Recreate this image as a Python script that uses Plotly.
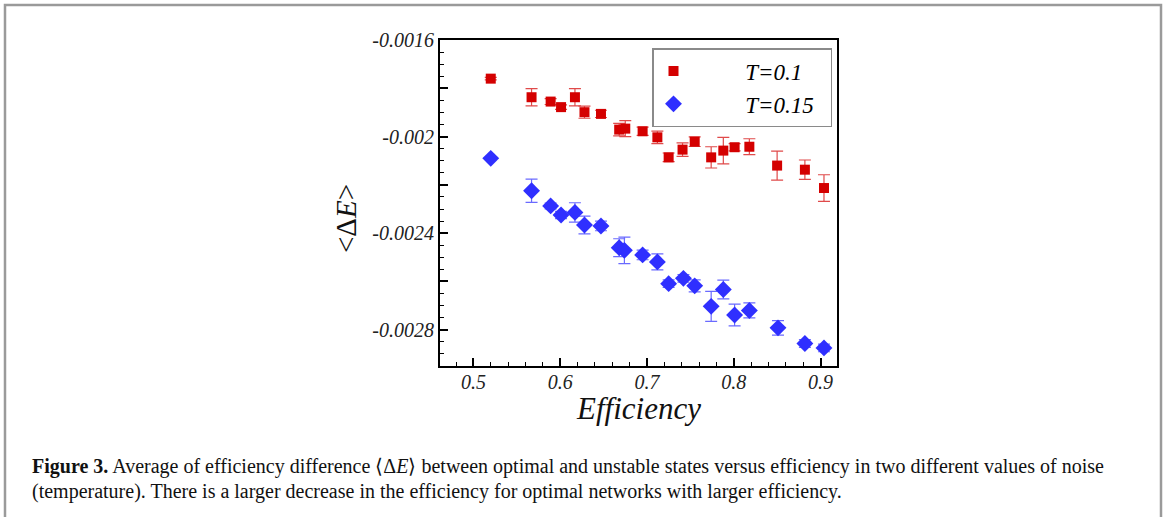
import plotly.graph_objects as go

# ---- data ----
eff_red = [0.520, 0.567, 0.589, 0.601, 0.617, 0.628, 0.647, 0.668, 0.675, 0.695,
           0.712, 0.725, 0.741, 0.755, 0.774, 0.788, 0.801, 0.818, 0.850, 0.882, 0.904]
de_red = [-0.001760, -0.001837, -0.001855, -0.001878, -0.001837, -0.001899, -0.001906,
          -0.001971, -0.001967, -0.001978, -0.002003, -0.002086, -0.002054, -0.002021,
          -0.002086, -0.002058, -0.002044, -0.002042, -0.002120, -0.002137, -0.002213]
err_red = [0.000005, 0.000036, 0.000012, 0.000009, 0.000036, 0.000025, 0.000015,
           0.000026, 0.000033, 0.000017, 0.000026, 0.000018, 0.000028, 0.000020,
           0.000044, 0.000055, 0.000015, 0.000033, 0.000060, 0.000040, 0.000055]

eff_blue = [0.520, 0.567, 0.589, 0.601, 0.617, 0.628, 0.647, 0.668, 0.674, 0.695,
            0.712, 0.725, 0.742, 0.755, 0.774, 0.788, 0.801, 0.818, 0.851, 0.882, 0.904]
de_blue = [-0.002090, -0.002224, -0.002287, -0.002325, -0.002314, -0.002366, -0.002370,
           -0.002460, -0.002471, -0.002490, -0.002519, -0.002609, -0.002587, -0.002618,
           -0.002703, -0.002633, -0.002739, -0.002720, -0.002792, -0.002857, -0.002875]
err_blue = [0.000005, 0.000048, 0.000012, 0.000015, 0.000040, 0.000037, 0.000020,
            0.000037, 0.000055, 0.000020, 0.000033, 0.000016, 0.000016, 0.000025,
            0.000062, 0.000039, 0.000045, 0.000031, 0.000030, 0.000016, 0.000016]

name_red = "T=0.1"
name_blue = "T=0.15"

x_ticks = [0.5, 0.6, 0.7, 0.8, 0.9]
y_ticks = [-0.0016, -0.0018, -0.002, -0.0022, -0.0024, -0.0026, -0.0028]
y_labels = ["-0.0016", "", "-0.002", "", "-0.0024", "", "-0.0028"]

caption_1 = ("<b>Figure 3.</b> Average of efficiency difference \u27e8\u0394<i>E</i>\u27e9 between optimal "
             "and unstable states versus efficiency in two different values of noise")
caption_2 = ("(temperature). There is a larger decrease in the efficiency for optimal "
             "networks with larger efficiency.")

SERIF = "Liberation Serif"
pad = "\u00a0" * 9
tail = "\u00a0" * 2

fig = go.Figure()
fig.add_trace(go.Scatter(
    x=eff_red, y=de_red, mode="markers", name=pad + "<i>" + name_red + "</i>",
    marker=dict(symbol="square", size=10, color="#d40000"),
    error_y=dict(type="data", array=err_red, color="#e04a4a", thickness=1.2, width=6),
))
fig.add_trace(go.Scatter(
    x=eff_blue, y=de_blue, mode="markers", name=pad + "<i>" + name_blue + "</i>" + tail,
    marker=dict(symbol="diamond", size=13, color="#2f2fff"),
    error_y=dict(type="data", array=err_blue, color="#6a6aff", thickness=1.2, width=6),
))

L, R, T, B = 440, 1168 - 837, 40, 517 - 366
W, H = 1168 - L - R, 517 - T - B


def px_x(px):
    return (px - L) / W


def px_y(py):
    return (517 - B - py) / H


fig.update_layout(
    width=1168, height=517,
    margin=dict(l=L, r=R, t=T, b=B),
    paper_bgcolor="white", plot_bgcolor="white",
    font=dict(family=SERIF, color="black"),
    showlegend=True,
    legend=dict(
        x=px_x(652), y=px_y(48), xanchor="left", yanchor="top",
        bordercolor="#8a8a8a", borderwidth=1.5, bgcolor="white",
        font=dict(family=SERIF, size=23, color="black"),
        tracegroupgap=0,
    ),
    xaxis=dict(
        range=[0.4615, 0.919], showgrid=False, zeroline=False,
        showline=True, linecolor="black", linewidth=2, mirror=True,
        ticks="inside", ticklen=8, tickwidth=1.5, tickcolor="black",
        tickvals=x_ticks, ticktext=["<i>%g</i>" % v for v in x_ticks],
        tickfont=dict(family=SERIF, size=20, color="#222"),
        ticklabelstandoff=-3,
        minor=dict(ticks="inside", ticklen=4, tickwidth=1, tickcolor="black",
                   dtick=0.02, tick0=0.5, showgrid=False),
    ),
    yaxis=dict(
        range=[-0.00295, -0.0016], showgrid=False, zeroline=False,
        showline=True, linecolor="black", linewidth=2, mirror=True,
        ticks="inside", ticklen=8, tickwidth=1.5, tickcolor="black",
        tickvals=y_ticks, ticktext=["<i>%s</i>" % s if s else "" for s in y_labels],
        tickfont=dict(family=SERIF, size=20, color="#222"),
        minor=dict(ticks="inside", ticklen=4, tickwidth=1, tickcolor="black",
                   dtick=0.00005, tick0=0, showgrid=False),
    ),
    annotations=[
        dict(text="<i>Efficiency</i>", xref="paper", yref="paper",
             x=px_x(638), y=px_y(408), xanchor="center", yanchor="middle",
             showarrow=False, font=dict(family=SERIF, size=31, color="#111")),
        dict(text="&lt;\u0394<i>E</i>&gt;", xref="paper", yref="paper",
             x=px_x(346), y=px_y(219), xanchor="center", yanchor="middle",
             textangle=-90, showarrow=False, font=dict(family=SERIF, size=29, color="#111")),
        dict(text=caption_1, xref="paper", yref="paper",
             x=px_x(30), y=px_y(466), xanchor="left", yanchor="middle",
             showarrow=False, font=dict(family=SERIF, size=20, color="#111")),
        dict(text=caption_2, xref="paper", yref="paper",
             x=px_x(30), y=px_y(491), xanchor="left", yanchor="middle",
             showarrow=False, font=dict(family=SERIF, size=20, color="#111")),
    ],
    shapes=[
        dict(type="path", xref="paper", yref="paper",
             path="M %f %f L %f %f L %f %f L %f %f" % (
                 px_x(5), px_y(530), px_x(5), px_y(5), px_x(1161), px_y(5), px_x(1161), px_y(530)),
             line=dict(color="#9a9a9a", width=2.5), layer="above"),
    ],
)

fig.write_html("out.html", config={"displayModeBar": False},
               post_script="document.body.style.margin='0';")
